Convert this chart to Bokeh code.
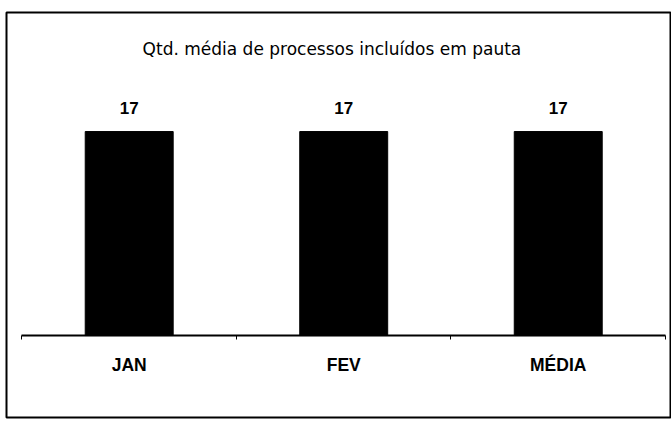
from bokeh.plotting import figure
from bokeh.models import ColumnDataSource, LabelSet, Label, FixedTicker, Range1d
from bokeh.core.properties import value
from bokeh.embed import file_html
from bokeh.resources import INLINE

# ---- data ----
categories = ["JAN", "FEV", "MÉDIA"]
values = [17, 17, 17]
value_labels = ["17", "17", "17"]
title_text = "Qtd. média de processos incluídos em pauta"

x_centers = [i + 0.5 for i in range(len(categories))]
src = ColumnDataSource(dict(x=x_centers, top=values, lbl=value_labels))

p = figure(width=671, height=428, output_backend="svg", toolbar_location=None,
           x_range=Range1d(-0.072, 3.028), y_range=Range1d(-6.83, 26.92),
           min_border_left=6, min_border_right=0, min_border_top=12, min_border_bottom=11)
p.background_fill_color = "white"
p.border_fill_color = "white"
p.outline_line_color = "black"
p.outline_line_width = 2
p.xgrid.visible = False
p.ygrid.visible = False
p.yaxis.visible = False

p.vbar(x="x", top="top", bottom=0, width=0.41, source=src, color="black")

ax = p.xaxis[0]
ax.fixed_location = 0
ax.bounds = (0, 3)
ax.ticker = FixedTicker(ticks=x_centers, minor_ticks=[0, 1, 2, 3])
ax.major_label_overrides = {x: c for x, c in zip(x_centers, categories)}
ax.major_tick_line_color = None
ax.minor_tick_line_color = "black"
ax.minor_tick_in = 0
ax.minor_tick_out = 4
ax.axis_line_color = "black"
ax.axis_line_width = 2
ax.major_label_standoff = 13
ax.major_label_text_font = "Liberation Sans"
ax.major_label_text_font_size = "17.5px"
ax.major_label_text_font_style = "bold"
ax.major_label_text_color = "black"

labels = LabelSet(x="x", y="top", text="lbl", source=src, y_offset=18,
                  text_align="center", text_baseline="alphabetic",
                  text_font=value("Liberation Sans"), text_font_size=value("17px"),
                  text_font_style="bold", text_color="black")
p.add_layout(labels)

title = Label(x=1.445, y=23.92, text=title_text, text_align="center", text_baseline="alphabetic",
              text_font="DejaVu Sans", text_font_size="17px", text_color="black")
p.add_layout(title)

open("out.html", "w").write(file_html(p, INLINE))
